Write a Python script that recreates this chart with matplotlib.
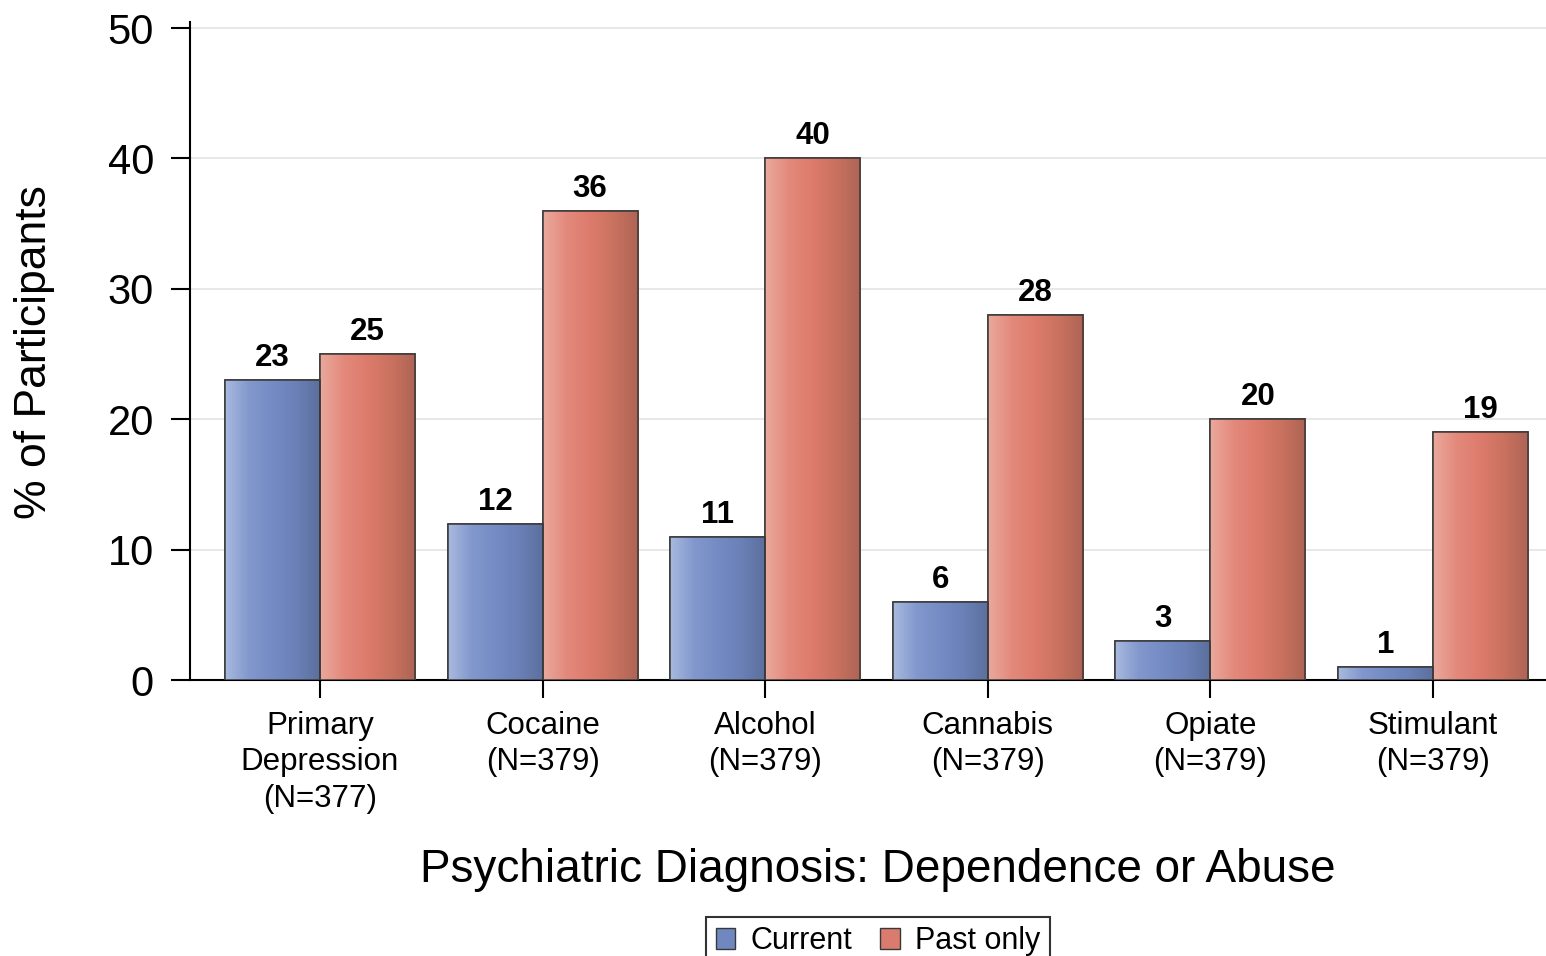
import numpy as np
import matplotlib
matplotlib.use("Agg")
import matplotlib.pyplot as plt
from matplotlib.colors import LinearSegmentedColormap
from matplotlib.patches import Patch

categories = ["Primary\nDepression\n(N=377)", "Cocaine\n(N=379)", "Alcohol\n(N=379)",
              "Cannabis\n(N=379)", "Opiate\n(N=379)", "Stimulant\n(N=379)"]
current = [23, 12, 11, 6, 3, 1]
past_only = [25, 36, 40, 28, 20, 19]
series_names = ["Current", "Past only"]
yticks = [0, 10, 20, 30, 40, 50]

plt.rcParams['font.family'] = ['Liberation Sans', 'DejaVu Sans']

W, H = 1546, 956
fig = plt.figure(figsize=(W / 100, H / 100), dpi=100)
ax = fig.add_axes([190 / W, 1 - 680 / H, 1 - 190 / W, (680 - 21.5) / H])

x = np.arange(len(categories))
bw = 0.427

blue_cmap = LinearSegmentedColormap.from_list(
    "b", ["#a9badf", "#8298cd", "#748bc4", "#6a80b6", "#5b6f9c"])
red_cmap = LinearSegmentedColormap.from_list(
    "r", ["#eaa99d", "#e3897b", "#dc7b6c", "#c9715f", "#ad6455"])

edge = "#383838"
b1 = ax.bar(x - bw / 2, current, width=bw, color="#7088c0", edgecolor=edge, linewidth=1.1, zorder=3)
b2 = ax.bar(x + bw / 2, past_only, width=bw, color="#dc7d6e", edgecolor=edge, linewidth=1.1, zorder=3)

grad = np.linspace(0, 1, 256).reshape(1, -1)
for bars, cmap in ((b1, blue_cmap), (b2, red_cmap)):
    for r in bars:
        x0, w, h = r.get_x(), r.get_width(), r.get_height()
        im = ax.imshow(grad, cmap=cmap, aspect='auto', extent=(x0, x0 + w, 0, h),
                       zorder=3.5, interpolation='bicubic')
        im.set_clip_path(r)
        ax.bar(x0 + w / 2, h, width=w, fill=False, edgecolor=edge, linewidth=1.1, zorder=4)

for bars in (b1, b2):
    for r in bars:
        ax.annotate(f"{int(r.get_height())}", (r.get_x() + r.get_width() / 2, r.get_height()),
                    xytext=(0, 5), textcoords='offset points', ha='center', va='bottom',
                    fontsize=22.5, fontweight='bold', zorder=5)

ax.set_xlim(-0.584, 5.508)
ax.set_ylim(0, 50.5)
ax.set_yticks(yticks)
ax.set_xticks(x)
ax.set_xticklabels(categories, fontsize=22.5, linespacing=1.3)
ax.tick_params(axis='y', labelsize=30, length=14, width=1.5, pad=12)
ax.tick_params(axis='x', length=13, width=1.5, pad=9)
ax.yaxis.grid(True, color="#e6e6e6", linewidth=1.3, zorder=0)
ax.set_axisbelow(True)
for s in ("top", "right"):
    ax.spines[s].set_visible(False)
for s in ("left", "bottom"):
    ax.spines[s].set_linewidth(1.5)

fig.text(35 / W, 1 - 352 / H, "% of Participants", rotation=90,
         ha='center', va='center', fontsize=32)

fig.text(878 / W, 1 - 870 / H, "Psychiatric Diagnosis: Dependence or Abuse",
         ha='center', va='center', fontsize=33)

handles = [Patch(facecolor="#7088c0", edgecolor=edge), Patch(facecolor="#d97c6e", edgecolor=edge)]
leg = fig.legend(handles, series_names, loc='upper center', bbox_to_anchor=(878 / W, 1 - 917 / H),
                 ncol=2, fontsize=22, frameon=True, fancybox=False, handlelength=0.65,
                 handleheight=0.65, handletextpad=0.5, columnspacing=0.9, borderpad=0.3,
                 borderaxespad=0)
leg.get_frame().set_edgecolor('black')
leg.get_frame().set_linewidth(1.5)

fig.savefig("out.png", dpi=100)
